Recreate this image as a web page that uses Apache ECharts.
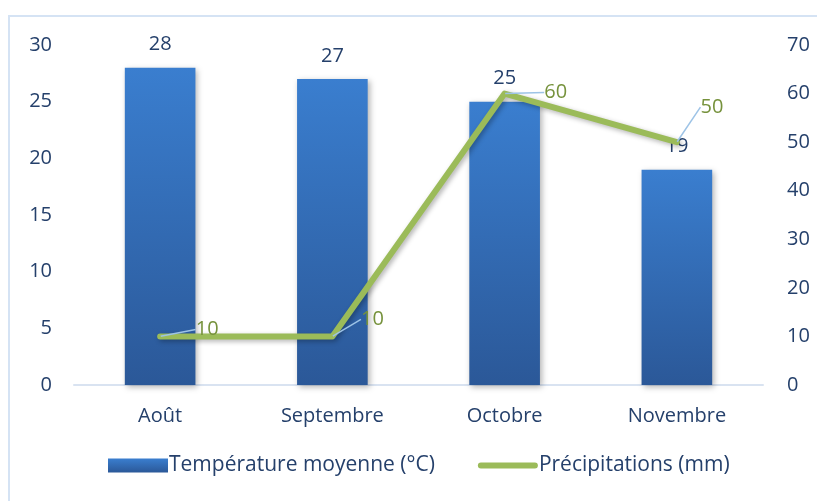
<!DOCTYPE html>
<html>
<head>
<meta charset="utf-8">
<script src="https://cdn.jsdelivr.net/npm/echarts@6/dist/echarts.min.js"></script>
<style>
  html, body { margin: 0; padding: 0; background: #fff; }
  #chart { width: 817px; height: 501px; }
</style>
</head>
<body>
<div id="chart"></div>
<script>
// Monthly climate summary: mean temperature (bars, left axis) and rainfall (line, right axis)
const months = ['Août', 'Septembre', 'Octobre', 'Novembre'];
const temperature = [28, 27, 25, 19];
const precipitation = [10, 10, 60, 50];
const tempTicks = [0, 5, 10, 15, 20, 25, 30];
const rainTicks = [0, 10, 20, 30, 40, 50, 60, 70];

// callout offsets for the rainfall labels (dx, dy from the point)
const calloutOffsets = [[47, -7], [40, -17], [51, -1], [35, -35]];

const textColor = '#25406B';
const font = 'Open Sans';

const chart = echarts.init(document.getElementById('chart'), null, { renderer: 'canvas' });

chart.setOption({
  animation: false,
  textStyle: { fontFamily: font },
  graphic: [{
    type: 'rect',
    shape: { x: 9, y: 16, width: 820, height: 500 },
    style: { fill: 'none', stroke: '#D5E3F4', lineWidth: 2 },
    z: -1
  }],
  grid: { left: 74, right: 54, top: 45, bottom: 116 },
  legend: {
    top: 455,
    left: 108,
    padding: 0,
    itemGap: 43,
    itemWidth: 60,
    itemHeight: 14,
    symbolKeepAspect: true,
    textStyle: { color: textColor, fontSize: 21, fontFamily: font, padding: [0, 0, 0, -4] },
    data: [
      { name: 'Température moyenne (°C)', icon: 'rect' },
      {
        name: 'Précipitations (mm)',
        icon: 'path://M3,0 H57 A3,3 0 0 1 57,6 H3 A3,3 0 0 1 3,0 Z'
      }
    ]
  },
  xAxis: {
    type: 'category',
    data: months,
    axisLine: { lineStyle: { color: '#D9E3F1', width: 2 } },
    axisTick: { show: false },
    axisLabel: { color: textColor, fontSize: 20, margin: 21 }
  },
  yAxis: [{
    type: 'value',
    min: tempTicks[0],
    max: tempTicks[tempTicks.length - 1],
    interval: 5,
    splitLine: { show: false },
    axisLine: { show: false },
    axisTick: { show: false },
    axisLabel: { color: textColor, fontSize: 20, margin: 22 }
  }, {
    type: 'value',
    min: rainTicks[0],
    max: rainTicks[rainTicks.length - 1],
    interval: 10,
    splitLine: { show: false },
    axisLine: { show: false },
    axisTick: { show: false },
    axisLabel: { color: textColor, fontSize: 20, margin: 24 }
  }],
  series: [{
    name: 'Température moyenne (°C)',
    type: 'bar',
    yAxisIndex: 0,
    data: temperature,
    barWidth: '41%',
    itemStyle: {
      color: new echarts.graphic.LinearGradient(0, 0, 0, 1, [
        { offset: 0, color: '#3A7ECF' },
        { offset: 1, color: '#2B5898' }
      ]),
      shadowColor: 'rgba(0,0,0,0.3)',
      shadowBlur: 6,
      shadowOffsetX: 2,
      shadowOffsetY: 2
    },
    label: {
      show: true,
      position: 'top',
      distance: 13,
      color: textColor,
      fontSize: 20
    },
    z: 2
  }, {
    name: 'Précipitations (mm)',
    type: 'line',
    yAxisIndex: 1,
    data: precipitation,
    symbol: 'circle',
    symbolSize: 1,
    showSymbol: true,
    lineStyle: {
      color: '#9BBB59',
      width: 6,
      cap: 'round',
      join: 'round',
      shadowColor: 'rgba(0,0,0,0.3)',
      shadowBlur: 5,
      shadowOffsetX: 2,
      shadowOffsetY: 2
    },
    itemStyle: { color: '#9BBB59' },
    label: {
      show: true,
      position: 'inside',
      color: '#76923C',
      fontSize: 20
    },
    labelLine: {
      show: true,
      lineStyle: { color: '#9DC3E6', width: 1.5 }
    },
    labelLayout: function (params) {
      const off = calloutOffsets[params.dataIndex];
      return { dx: off[0], dy: off[1] };
    },
    z: 3
  }]
});
</script>
</body>
</html>
